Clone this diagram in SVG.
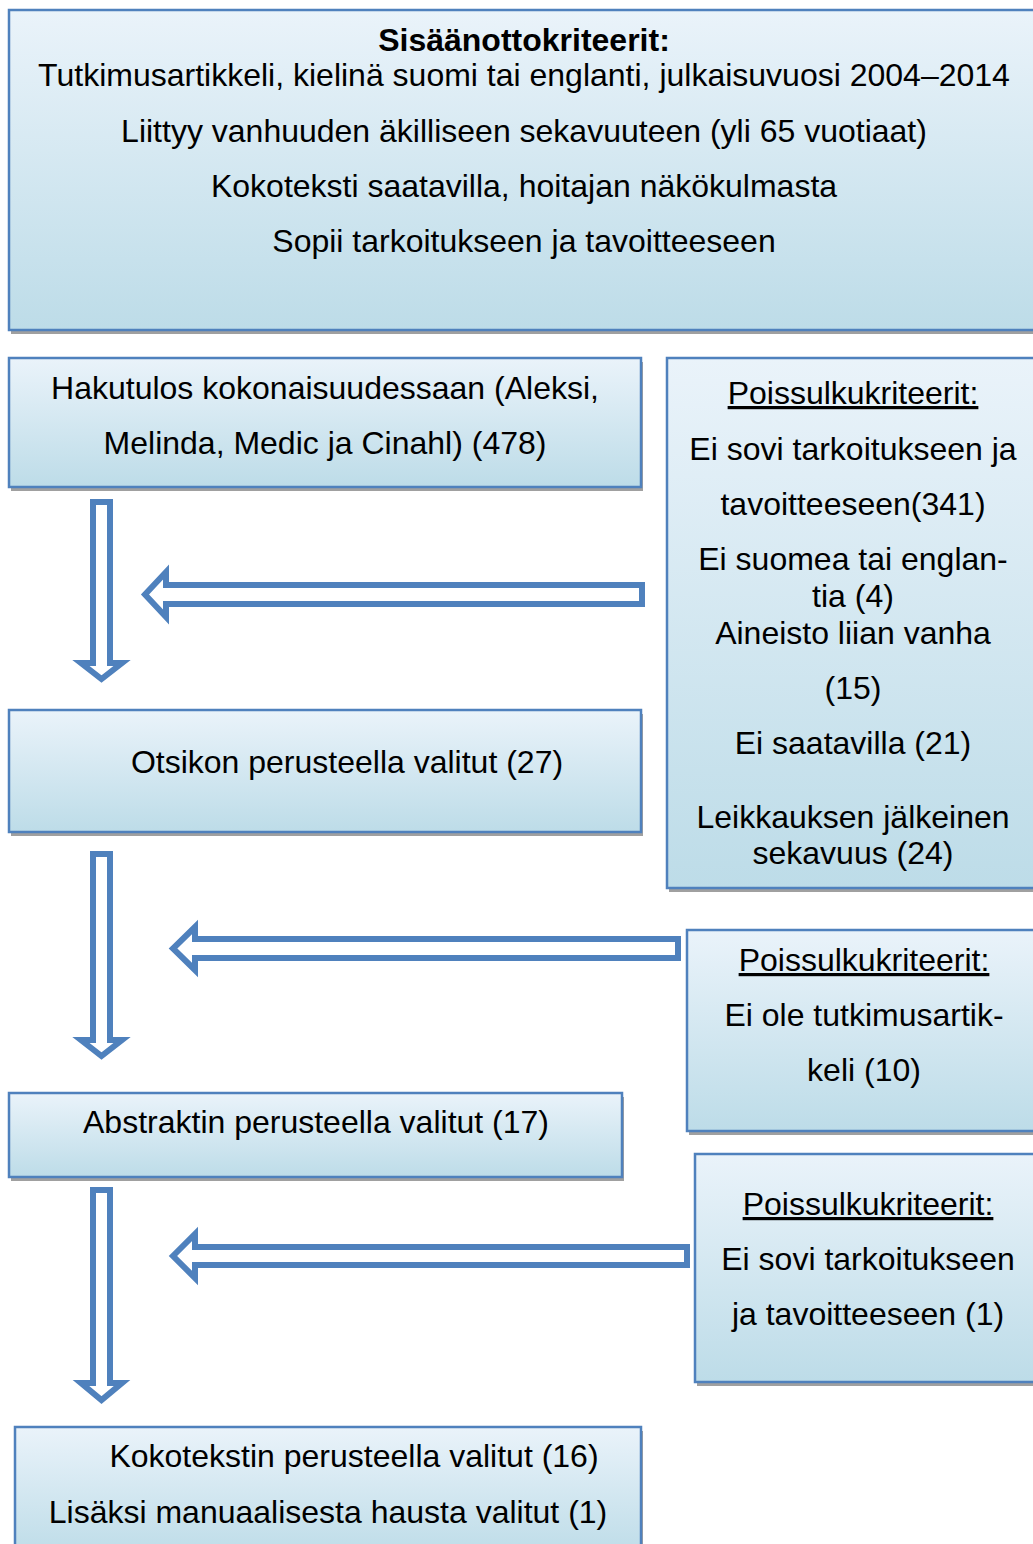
<svg xmlns="http://www.w3.org/2000/svg" width="1033" height="1544" viewBox="0 0 1033 1544">
<defs>
<linearGradient id="g" x1="0" y1="0" x2="0" y2="1">
<stop offset="0" stop-color="#eaf3fa"/>
<stop offset="1" stop-color="#bddce8"/>
</linearGradient>
<style>
.box{fill:url(#g);stroke:#4f81bd;stroke-width:2.5}
.sh{fill:#a0a0a0}
.t{font-family:"Liberation Sans",Arial,sans-serif;font-size:32px;fill:#000;text-anchor:middle}
.b{font-weight:bold}
.u{text-decoration:underline}
.arr{fill:#fff;stroke:#4f81bd;stroke-width:6;stroke-linejoin:miter}
</style>
</defs>
<rect width="1033" height="1544" fill="#fff"/>

<g id="inclusion">
<rect class="sh" x="11" y="14" width="1040" height="320"/>
<rect class="box" x="9" y="10" width="1040" height="320"/>
<text class="t b" x="524" y="51">Sisäänottokriteerit:</text>
<text class="t" x="524" y="86">Tutkimusartikkeli, kielinä suomi tai englanti, julkaisuvuosi 2004–2014</text>
<text class="t" x="524" y="142">Liittyy vanhuuden äkilliseen sekavuuteen (yli 65 vuotiaat)</text>
<text class="t" x="524" y="197">Kokoteksti saatavilla, hoitajan näkökulmasta</text>
<text class="t" x="524" y="252">Sopii tarkoitukseen ja tavoitteeseen</text>
</g>

<g id="search">
<rect class="sh" x="11" y="362" width="632" height="129"/>
<rect class="box" x="9" y="358" width="632" height="129"/>
<text class="t" x="325" y="399">Hakutulos kokonaisuudessaan (Aleksi,</text>
<text class="t" x="325" y="454">Melinda, Medic ja Cinahl) (478)</text>
</g>

<g id="excl1">
<rect class="sh" x="669" y="362" width="380" height="530"/>
<rect class="box" x="667" y="358" width="380" height="530"/>
<text class="t u" x="853" y="404">Poissulkukriteerit:</text>
<text class="t" x="853" y="460">Ei sovi tarkoitukseen ja</text>
<text class="t" x="853" y="515">tavoitteeseen(341)</text>
<text class="t" x="853" y="570">Ei suomea tai englan-</text>
<text class="t" x="853" y="607">tia (4)</text>
<text class="t" x="853" y="644">Aineisto liian vanha</text>
<text class="t" x="853" y="699">(15)</text>
<text class="t" x="853" y="754">Ei saatavilla (21)</text>
<text class="t" x="853" y="828">Leikkauksen jälkeinen</text>
<text class="t" x="853" y="864">sekavuus (24)</text>
</g>

<g id="title">
<rect class="sh" x="11" y="714" width="632" height="122"/>
<rect class="box" x="9" y="710" width="632" height="122"/>
<text class="t" x="347" y="773">Otsikon perusteella valitut (27)</text>
</g>

<g id="excl2">
<rect class="sh" x="689" y="934" width="360" height="201"/>
<rect class="box" x="687" y="930" width="360" height="201"/>
<text class="t u" x="864" y="971">Poissulkukriteerit:</text>
<text class="t" x="864" y="1026">Ei ole tutkimusartik-</text>
<text class="t" x="864" y="1081">keli (10)</text>
</g>

<g id="abstract">
<rect class="sh" x="11" y="1097" width="613" height="84"/>
<rect class="box" x="9" y="1093" width="613" height="84"/>
<text class="t" x="316" y="1133">Abstraktin perusteella valitut (17)</text>
</g>

<g id="excl3">
<rect class="sh" x="697" y="1158" width="352" height="228"/>
<rect class="box" x="695" y="1154" width="352" height="228"/>
<text class="t u" x="868" y="1215">Poissulkukriteerit:</text>
<text class="t" x="868" y="1270">Ei sovi tarkoitukseen</text>
<text class="t" x="868" y="1325">ja tavoitteeseen (1)</text>
</g>

<g id="fulltext">
<rect class="sh" x="17" y="1431" width="626" height="130"/>
<rect class="box" x="15" y="1427" width="626" height="130"/>
<text class="t" x="354" y="1467">Kokotekstin perusteella valitut (16)</text>
<text class="t" x="328" y="1523">Lisäksi manuaalisesta hausta valitut (1)</text>
</g>

<g id="connectors">
<polygon class="arr" points="93,502 110,502 110,663 122,663 101.5,679 81,663 93,663"/>
<polygon class="arr" points="93,854 110,854 110,1040 122,1040 101.5,1056 81,1040 93,1040"/>
<polygon class="arr" points="93,1190 110,1190 110,1383 122,1383 101.5,1400 81,1383 93,1383"/>
<polygon class="arr" points="642,585 166,585 166,572 145,594.5 166,617 166,604 642,604"/>
<polygon class="arr" points="678,939 195,939 195,927 173,948.5 195,970 195,958 678,958"/>
<polygon class="arr" points="687,1247 195,1247 195,1234 173,1256 195,1278 195,1265 687,1265"/>
</g>
</svg>
